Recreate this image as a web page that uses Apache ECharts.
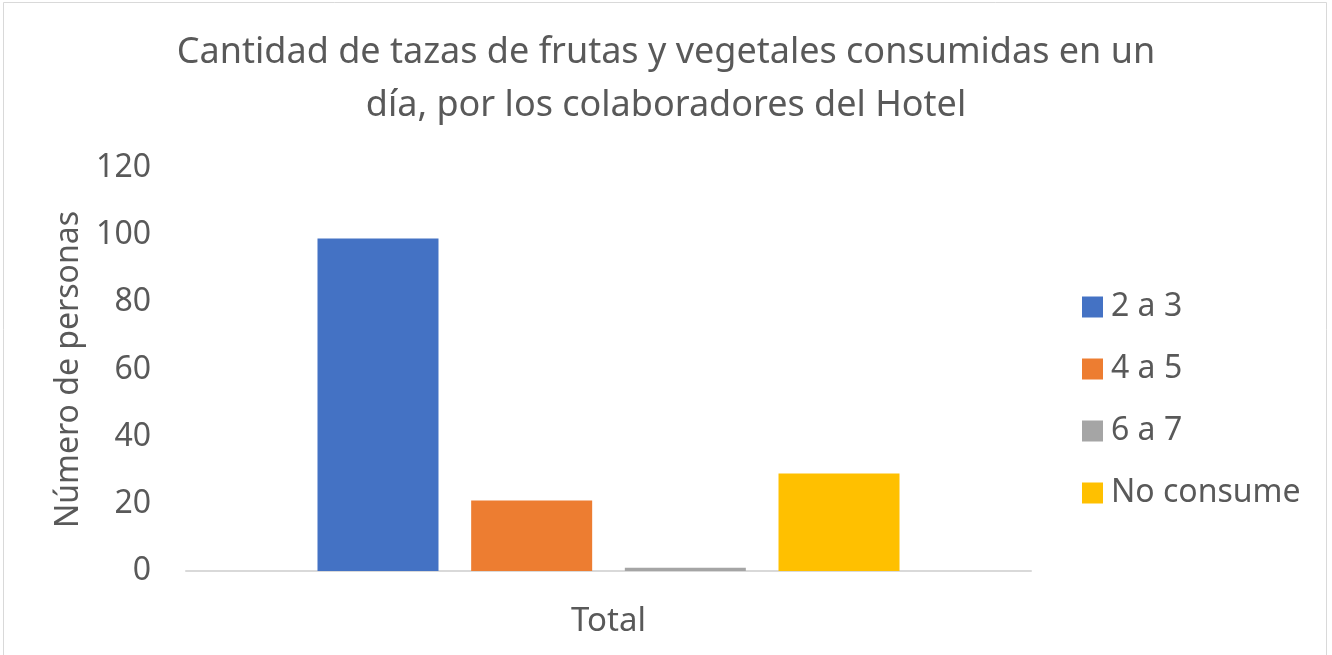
<!DOCTYPE html>
<html>
<head>
<meta charset="utf-8">
<style>
  html, body { margin: 0; padding: 0; background: #fff; }
  #main { width: 1332px; height: 655px; }
</style>
<script src="https://cdn.jsdelivr.net/npm/echarts@6/dist/echarts.min.js"></script>
</head>
<body>
<div id="main"></div>
<script>
// datos
var categorias = ['Total'];
var series = ['2 a 3', '4 a 5', '6 a 7', 'No consume'];
var valores = [99, 21, 1, 29];
var colores = ['#4472C4', '#ED7D31', '#A5A5A5', '#FFC000'];

var fuente = '"Noto Sans", sans-serif';
var gris = '#595959';

var myChart = echarts.init(document.getElementById('main'));

var option = {
	backgroundColor: '#fff',
	textStyle: { fontFamily: fuente },
	graphic: [{
		type: 'rect',
		shape: { x: 3.5, y: 2.5, width: 1323, height: 680 },
		style: { fill: 'none', stroke: '#d9d9d9', lineWidth: 1 },
		silent: true
	}],
	title: {
		text: 'Cantidad de tazas de frutas y vegetales consumidas en un\ndía, por los colaboradores del Hotel',
		left: 'center',
		top: 26,
		padding: 0,
		textStyle: {
			fontFamily: fuente,
			fontSize: 36,
			fontWeight: 'normal',
			color: gris,
			lineHeight: 53,
			align: 'center'
		}
	},
	legend: {
		orient: 'vertical',
		left: 1077,
		top: 284,
		icon: 'rect',
		itemWidth: 21,
		itemHeight: 21,
		itemGap: 26,
		data: series,
		textStyle: { fontFamily: fuente, fontSize: 32, color: gris, lineHeight: 36, padding: [0, 0, 0, 3] }
	},
	grid: {
		left: 186,
		right: 301,
		top: 168,
		bottom: 84
	},
	xAxis: {
		type: 'category',
		data: categorias,
		axisLine: { lineStyle: { color: '#d9d9d9', width: 2 } },
		axisTick: { show: false },
		axisLabel: { fontFamily: fuente, fontSize: 33, color: gris, margin: 34 }
	},
	yAxis: {
		type: 'value',
		min: 0,
		max: 120,
		interval: 20,
		name: 'Número de personas',
		nameLocation: 'middle',
		nameGap: 100,
		nameTextStyle: { fontFamily: fuente, fontSize: 32, color: gris },
		axisLine: { show: false },
		axisTick: { show: false },
		splitLine: { show: false },
		axisLabel: { fontFamily: fuente, fontSize: 32, color: gris, margin: 35 }
	},
	series: series.map(function(nombre, i) {
		return {
			name: nombre,
			type: 'bar',
			data: [valores[i]],
			barWidth: 121,
			barGap: '27%',
			itemStyle: { color: colores[i] },
			animation: false
		};
	})
};

myChart.setOption(option);
</script>
</body>
</html>
